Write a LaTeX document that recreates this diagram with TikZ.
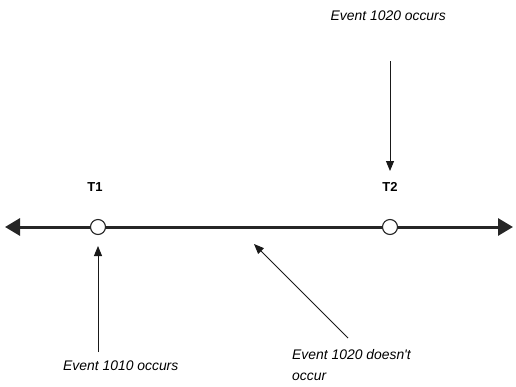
\documentclass[tikz,border=0pt]{standalone}
\usepackage{fontspec}
\setmainfont{Liberation Sans}
\usetikzlibrary{arrows.meta}
\begin{document}
\begin{tikzpicture}[x=1pt,y=-1pt,
  mainline/.style={line width=3pt, draw=black!85, {Triangle[length=15pt,width=17pt]}-{Triangle[length=15pt,width=17pt]}},
  timept/.style={circle, draw=black!85, line width=1.1pt, fill=white, minimum size=15pt, inner sep=0pt},
  tlabel/.style={font=\fontsize{13}{15}\selectfont\bfseries, inner sep=0pt},
  evtext/.style={font=\fontsize{13.9}{16}\selectfont\itshape, inner sep=0pt},
  evarrow/.style={line width=0.9pt, draw=black!90, -{Triangle[length=10pt,width=8pt]}}]
\useasboundingbox (0,0) rectangle (516,386);
% main time line
\coordinate (L) at (5,227);
\coordinate (R) at (513,227);
\draw[mainline] (L) -- (R);
\node[timept] (c1) at (98,227) {};
\node[timept] (c2) at (390,227) {};
\node[tlabel] (t1) at (95,187) {T1};
\node[tlabel] (t2) at (390,187) {T2};
% texts
\node[evtext, anchor=base east] (e20) at (446,20) {Event 1020 occurs};
\node[evtext, anchor=base west] (e10) at (63,370) {Event 1010 occurs};
\node[evtext, anchor=base west] (en1) at (292,359) {Event 1020 doesn\textquotesingle t};
\node[evtext, anchor=base west] (en2) at (292,380) {occur};
% arrows
\coordinate (a1s) at (98,352);
\coordinate (a1e) at (98,246);
\draw[evarrow] (a1s) -- (a1e);
\coordinate (a2s) at (390,61);
\coordinate (a2e) at (390,171);
\draw[evarrow] (a2s) -- (a2e);
\coordinate (a3s) at (348,338);
\coordinate (a3e) at (254,244);
\draw[evarrow] (a3s) -- (a3e);
\end{tikzpicture}
\end{document}
